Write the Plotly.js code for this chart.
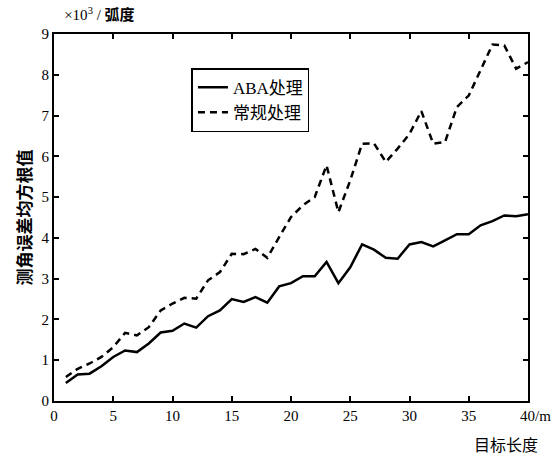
<!DOCTYPE html>
<html><head><meta charset="utf-8">
<script src="https://cdn.plot.ly/plotly-3.0.1.min.js"></script>
<style>body{margin:0;background:#fff}</style>
</head><body><div id="chart" style="width:558px;height:461px"></div>
<script>
const xLen = [1,2,3,4,5,6,7,8,9,10,11,12,13,14,15,16,17,18,19,20,21,22,23,24,25,26,27,28,29,30,31,32,33,34,35,36,37,38,39,40];
const abaVals = [0.44,0.65,0.67,0.85,1.08,1.24,1.2,1.41,1.68,1.72,1.9,1.8,2.08,2.22,2.5,2.43,2.55,2.41,2.81,2.89,3.06,3.06,3.41,2.89,3.28,3.84,3.71,3.51,3.49,3.84,3.9,3.79,3.94,4.09,4.09,4.31,4.41,4.55,4.53,4.58];
const convVals = [0.59,0.79,0.92,1.08,1.32,1.67,1.61,1.81,2.22,2.39,2.53,2.51,2.96,3.16,3.61,3.6,3.73,3.51,4.02,4.51,4.8,5.0,5.78,4.63,5.41,6.31,6.32,5.86,6.19,6.55,7.11,6.31,6.35,7.21,7.49,8.1,8.74,8.72,8.15,8.31];
const seriesNames = ["ABA处理","常规处理"];
const xTickVals = [0,5,10,15,20,25,30,35,40];
const xTickText = ["0","5","10","15","20","25","30","35","\u2007\u200740/m"];
const yTickVals = [0,1,2,3,4,5,6,7,8,9];
const yTickText = ["0","1","2","3","4","5","6","7","8","9"];
const yUnit = "×10<sup>3</sup> / <b>弧度</b>";
const yTitle = "<b>测角误差均方根值</b>";
const xTitle = "目标长度";

const FONT = "Liberation Serif, 'Noto Sans CJK SC', serif";
const traces = [
  {x:xLen, y:abaVals, name:seriesNames[0], mode:"lines", line:{color:"#000", width:2.5}},
  {x:xLen, y:convVals, name:seriesNames[1], mode:"lines", line:{color:"#000", width:2.5, dash:"7px,5px"}}
];
const axisCommon = {showgrid:false, zeroline:false, showline:true, linecolor:"#000", linewidth:2,
  mirror:"allticks", ticks:"inside", ticklen:5, tickwidth:2, tickcolor:"#000",
  tickfont:{family:FONT, size:15, color:"#000"}};
const layout = {
  width:558, height:461,
  margin:{l:54, r:30, t:34, b:60},
  paper_bgcolor:"#fff", plot_bgcolor:"#fff",
  font:{family:FONT, color:"#000"},
  title:{text:yUnit, x:0.115, xanchor:"left", xref:"container", y:0.967, yanchor:"middle", font:{family:FONT, size:15, color:"#000"}},
  xaxis:Object.assign({}, axisCommon, {range:[0,40], tickmode:"array", tickvals:xTickVals, ticktext:xTickText}),
  yaxis:Object.assign({}, axisCommon, {range:[0,9], tickmode:"array", tickvals:yTickVals, ticktext:yTickText,
    title:{text:yTitle, standoff:6, font:{family:FONT, size:17, color:"#000"}}}),
  legend:{x:0.29, y:0.907, xanchor:"left", yanchor:"top", bordercolor:"#000", borderwidth:1.5, bgcolor:"#fff",
    font:{family:FONT, size:17, color:"#000"}},
  showlegend:true,
  annotations:[{text:xTitle, xref:"paper", yref:"paper", x:1.025, y:-0.12, xanchor:"right", yanchor:"middle", showarrow:false,
    font:{family:FONT, size:16, color:"#000"}}]
};
Plotly.newPlot("chart", traces, layout, {displayModeBar:false, staticPlot:true});
</script></body></html>
